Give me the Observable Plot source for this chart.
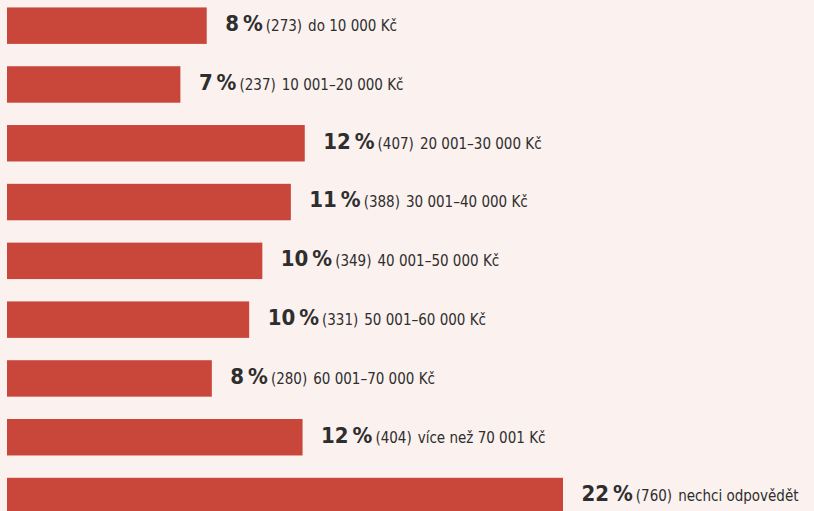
<!DOCTYPE html>
<html>
<head>
<meta charset="utf-8">
<script src="https://cdn.jsdelivr.net/npm/d3@7"></script>
<script src="https://cdn.jsdelivr.net/npm/@observablehq/plot@0.6"></script>
<style>
  html, body { margin: 0; padding: 0; background: #fbf1ef; }
  #chart svg { display: block; }
</style>
</head>
<body>
<div id="chart"></div>
<script>
const categories = ["do 10 000 Kč", "10 001–20 000 Kč", "20 001–30 000 Kč", "30 001–40 000 Kč", "40 001–50 000 Kč", "50 001–60 000 Kč", "60 001–70 000 Kč", "více než 70 001 Kč", "nechci odpovědět"];
const percents = [8, 7, 12, 11, 10, 10, 8, 12, 22];
const counts = [273, 237, 407, 388, 349, 331, 280, 404, 760];

const data = categories.map((c, i) => ({category: c, percent: percents[i], count: counts[i]}));

const FONT = "'DejaVu Sans Condensed', 'Liberation Sans Narrow', Roboto, sans-serif";

const chart = Plot.plot({
  width: 814,
  height: 511,
  margin: 0,
  style: {background: "#fbf1ef", fontFamily: FONT},
  x: {domain: [0, 760], range: [7, 563], axis: null},
  y: {domain: categories, range: [-14.9, 536.6], padding: 0.38, round: false, axis: null},
  marks: [
    Plot.barX(data, {x: "count", y: "category", fill: "#c9463a"}),
    Plot.text(data, {
      x: "count",
      y: "category",
      text: d => d.category,
      textAnchor: "start",
      dx: 18,
      fontSize: 15,
      fill: "#2e2e2e",
      render(index, scales, values, dims, context, next) {
        const g = next(index, scales, values, dims, context);
        const texts = g.querySelectorAll("text");
        const ns = "http://www.w3.org/2000/svg";
        texts.forEach((t, j) => {
          const d = data[index[j]];
          t.textContent = "";
          const a = document.createElementNS(ns, "tspan");
          a.setAttribute("font-size", 22);
          a.setAttribute("font-weight", "bold");
          a.textContent = d.percent + "\u2009%";
          const b = document.createElementNS(ns, "tspan");
          b.setAttribute("dx", 3);
          b.textContent = "(" + d.count + ")";
          const c = document.createElementNS(ns, "tspan");
          c.setAttribute("dx", 6);
          c.setAttribute("font-weight", 500);
          c.textContent = d.category;
          t.append(a, b, c);
        });
        return g;
      }
    })
  ]
});
document.getElementById("chart").append(chart);
</script>
</body>
</html>
